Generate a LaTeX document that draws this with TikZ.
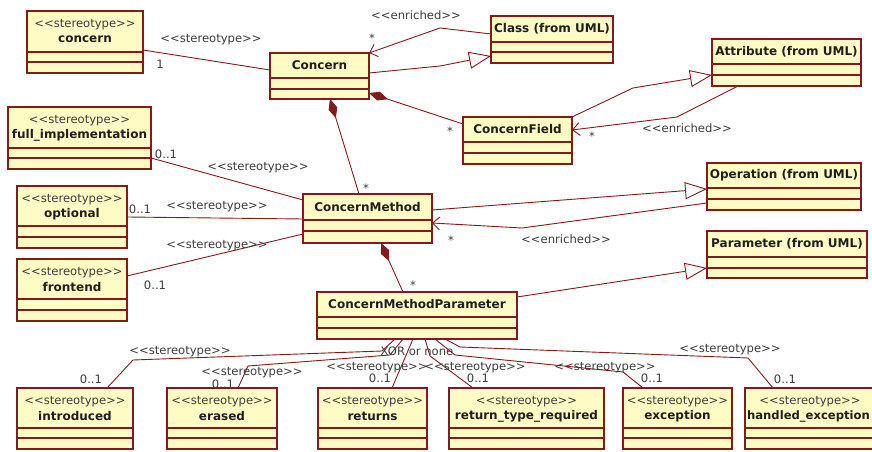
\documentclass[tikz,border=0pt]{standalone}
\usepackage{fontspec}
\setmainfont{DejaVu Sans}
\usetikzlibrary{arrows.meta,calc}
\definecolor{boxfill}{HTML}{FFFBC4}
\definecolor{umlred}{HTML}{7F1D1D}
\definecolor{txtgray}{HTML}{3C3C3C}
\tikzset{
  umlbox/.style={draw=umlred, line width=1.1bp, fill=boxfill, inner sep=0pt, outer sep=0pt, anchor=north west},
  sep/.style={draw=umlred, line width=1.1bp},
  conn/.style={draw=umlred, line width=0.9bp},
  gen/.style={conn, -{Triangle[open, length=22bp, width=17bp, fill=white]}},
  dep/.style={conn, -{Straight Barb[length=7bp, width=13bp]}},
  comp/.style={conn, {Diamond[length=20bp, width=9bp, fill=umlred]}-},
  lbl/.style={font=\fontsize{11.6bp}{13bp}\selectfont, text=txtgray, inner sep=0pt},
  nm/.style={font=\fontsize{12bp}{14bp}\selectfont\bfseries, text=black!88, inner sep=0pt},
}
\newcommand{\plainbox}[8]{%
  \pgfmathsetmacro\bw{#4-#2}\pgfmathsetmacro\bh{#5-#3}%
  \node[umlbox, minimum width=\bw bp, minimum height=\bh bp] (#1) at (#2,#3) {};
  \draw[sep] (#2,#6) -- (#4,#6) (#2,#7) -- (#4,#7);
  \node[nm] (#1-t) at ({(#2+#4)/2},{(#3+#6)/2}) {#8};
}
\newcommand{\stframe}[7]{%
  \pgfmathsetmacro\bw{#4-#2}\pgfmathsetmacro\bh{#5-#3}%
  \node[umlbox, minimum width=\bw bp, minimum height=\bh bp] (#1) at (#2,#3) {};
  \draw[sep] (#2,#6) -- (#4,#6) (#2,#7) -- (#4,#7);
}
\newcommand{\stbox}[8]{%
  \stframe{#1}{#2}{#3}{#4}{#5}{#6}{#7}%
  \node[lbl] (#1-s) at ({(#2+#4)/2},{#3+13.5}) {<{}<stereotype>{}>};
  \node[nm] (#1-t) at ({(#2+#4)/2},{#3+28}) {#8};
}
\begin{document}
\begin{tikzpicture}[x=1bp,y=-1bp]
\useasboundingbox (0,0) rectangle (872,452);
\fill[white] (0,0) rectangle (872,452);
\clip (0,0) rectangle (872,452);

% boxes
\stbox{concern}{27}{11}{143}{73}{52}{62}{concern}
\stbox{fullimpl}{8}{107}{151}{169}{148}{158}{full\_implementation}
\stbox{optional}{17}{186}{127}{248}{226}{237}{optional}
\stbox{frontend}{17}{259}{127}{321}{299}{310}{frontend}
\plainbox{Concern}{270}{53}{369}{99}{78}{89}{Concern}
\plainbox{Class}{491}{16}{613}{63}{42}{52}{Class (from UML)}
\plainbox{Attr}{712}{39}{861}{86}{64}{75}{Attribute (from UML)}
\plainbox{CF}{463}{117}{572}{164}{142}{153}{ConcernField}
\plainbox{CM}{303}{194}{432}{243}{220}{231}{ConcernMethod}
\plainbox{Op}{707}{163}{861}{210}{188}{199}{Operation (from UML)}
\plainbox{Par}{707}{231}{867}{278}{257}{268}{Parameter (from UML)}
\plainbox{CMP}{317}{292}{517}{339}{317}{328}{ConcernMethodParameter}
\stbox{intro}{17}{388}{133}{449}{428}{438}{introduced}
\stbox{erased}{167}{388}{277}{449}{428}{438}{erased}
\stbox{returns}{318}{388}{427}{449}{428}{438}{returns}
\stbox{rtr}{449}{388}{604}{449}{428}{438}{return\_type\_required}
\stbox{exc}{623}{388}{732}{449}{428}{438}{exception}
\stframe{hex}{745}{388}{882}{449}{428}{438}
\node[lbl] (hex-s) at (810,401.5) {<{}<stereotype>{}>};
\node[nm, font=\fontsize{11.6bp}{14bp}\selectfont\bfseries] (hex-t) at (808.5,416) {handled\_exception};

% bend points
\coordinate (b1) at (440,28);
\coordinate (b2) at (440,66);
\coordinate (b3) at (633,88);
\coordinate (b4) at (677,117);
\coordinate (b5) at (522,228);
\coordinate (bi1) at (382,351);
\coordinate (bi2) at (133,360);
\coordinate (be1) at (390,355);
\coordinate (be2) at (248,366);
\coordinate (br1) at (430,356);
\coordinate (bx1) at (455,355);
\coordinate (bx2) at (623,372);
\coordinate (bh1) at (460,347);
\coordinate (bh2) at (748,358);

% connectors
\draw[conn] (concern.east |- 0,50) -- (Concern.west |- 0,70);
\draw[dep] (Class.west |- 0,34) -- (b1) -- (Concern.north east);
\draw[gen] (Concern.east |- 0,73) -- (b2) -- (Class.west |- 0,56);
\draw[comp] (Concern.east |- 0,93) -- (CF.west |- 0,124);
\draw[comp] (Concern.south -| 330,0) -- (CM.north -| 359,0);
\draw[gen] (CF.north east) -- (b3) -- (Attr.west |- 0,75);
\draw[dep] (Attr.south -| 738,0) -- (b4) -- (CF.east |- 0,130);
\draw[conn] (fullimpl.east |- 0,158) -- (CM.west |- 0,200);
\draw[conn] (optional.east |- 0,217) -- (CM.west |- 0,219);
\draw[conn] (frontend.east |- 0,276) -- (CM.west |- 0,234);
\draw[gen] (CM.east |- 0,210) -- (Op.west |- 0,189);
\draw[dep] (Op.west |- 0,203) -- (b5) -- (CM.east |- 0,223);
\draw[comp] (CM.south -| 381,0) -- (CMP.north -| 403,0);
\draw[gen] (CMP.east |- 0,297) -- (Par.west |- 0,268);
\draw[conn] (CMP.south -| 395,0) -- (bi1) -- (bi2) -- (intro.north -| 107,0);
\draw[conn] (CMP.south -| 403,0) -- (be1) -- (be2) -- (erased.north -| 238,0);
\draw[conn] (CMP.south -| 413,0) -- (returns.north -| 392,0);
\draw[conn] (CMP.south -| 425,0) -- (br1) -- (rtr.north -| 473,0);
\draw[conn] (CMP.south -| 435,0) -- (bx1) -- (bx2) -- (exc.north -| 643,0);
\draw[conn] (CMP.south -| 445,0) -- (bh1) -- (bh2) -- (hex.north -| 773,0);

% labels
\node[lbl] (l1) at (211,40) {<{}<stereotype>{}>};
\node[lbl] (m1) at (160,64) {1};
\node[lbl] (l2) at (416,15) {<{}<enriched>{}>};
\node[lbl] (m2) at (372,38) {*};
\node[lbl] (m3) at (450,131) {*};
\node[lbl] (m4) at (366,188) {*};
\node[lbl] (m5) at (592,136) {*};
\node[lbl] (l3) at (687,128) {<{}<enriched>{}>};
\node[lbl] (m6) at (166,154) {0..1};
\node[lbl] (l4) at (258,168) {<{}<stereotype>{}>};
\node[lbl] (m7) at (140,209) {0..1};
\node[lbl] (l5) at (217,207) {<{}<stereotype>{}>};
\node[lbl] (l6) at (217,246) {<{}<stereotype>{}>};
\node[lbl] (m8) at (155,285) {0..1};
\node[lbl] (m9) at (451,240) {*};
\node[lbl] (l7) at (566,239) {<{}<enriched>{}>};
\node[lbl] (m10) at (413,285) {*};
\node[lbl] (l8) at (180,352) {<{}<stereotype>{}>};
\node[lbl] (m11) at (91,379) {0..1};
\node[lbl] (l9) at (252,373) {<{}<stereotype>{}>};
\node[lbl] (m12) at (223,384) {0..1};
\node[lbl] (l10) at (377,368) {<{}<stereotype>{}>};
\node[lbl] (m13) at (380,378) {0..1};
\node[lbl] (xor) at (417,351) {XOR or none};
\node[lbl] (l11) at (475,368) {<{}<stereotype>{}>};
\node[lbl] (m14) at (478,378) {0..1};
\node[lbl] (l12) at (605,368) {<{}<stereotype>{}>};
\node[lbl] (m15) at (652,378) {0..1};
\node[lbl] (l13) at (730,350) {<{}<stereotype>{}>};
\node[lbl] (m16) at (785,379) {0..1};
\end{tikzpicture}
\end{document}
